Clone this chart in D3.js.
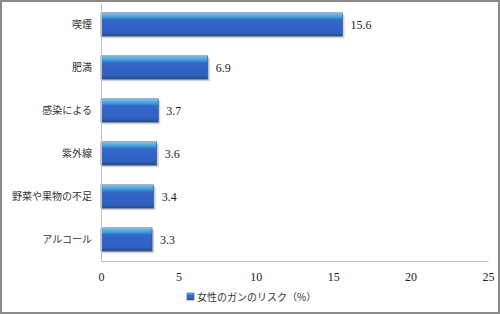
<!DOCTYPE html>
<html>
<head>
<meta charset="utf-8">
<script src="https://cdn.jsdelivr.net/npm/d3@7"></script>
<style>
  body { margin: 0; background: #fff; }
</style>
</head>
<body>
<svg id="chart" width="500" height="314"></svg>
<script>
const categories = ['喫煙', '肥満', '感染による', '紫外線', '野菜や果物の不足', 'アルコール']
const values = [15.6, 6.9, 3.7, 3.6, 3.4, 3.3]
const xTicks = [0, 5, 10, 15, 20, 25]
const seriesName = '女性のガンのリスク（%）'

const width = 500
const height = 314
const marginLeft = 101
const marginRight = 12
const marginTop = 3
const marginBottom = 53

const svg = d3.select('#chart')

svg.append('rect')
  .attr('x', 1).attr('y', 1)
  .attr('width', width - 2).attr('height', height - 2)
  .attr('fill', '#fff')
  .attr('stroke', '#8a8a8a')
  .attr('stroke-width', 2)

const defs = svg.append('defs')
const grad = defs.append('linearGradient')
  .attr('id', 'barGrad')
  .attr('x1', 0).attr('y1', 0).attr('x2', 0).attr('y2', 1)
grad.append('stop').attr('offset', '0%').attr('stop-color', '#a6d4f5')
grad.append('stop').attr('offset', '8%').attr('stop-color', '#62b2e6')
grad.append('stop').attr('offset', '20%').attr('stop-color', '#3a9ad2')
grad.append('stop').attr('offset', '30%').attr('stop-color', '#3468c8')
grad.append('stop').attr('offset', '80%').attr('stop-color', '#3060c4')
grad.append('stop').attr('offset', '90%').attr('stop-color', '#2f5aa8')
grad.append('stop').attr('offset', '100%').attr('stop-color', '#274a86')

const boundWidth = width - marginLeft - marginRight
const boundHeight = height - marginTop - marginBottom

const bounds = svg.append('g')
  .attr('transform', `translate(${marginLeft},${marginTop})`)

const xScale = d3.scaleLinear()
  .domain([0, 25])
  .range([0, boundWidth])

const yScale = d3.scaleBand()
  .domain(categories)
  .range([0, boundHeight])
  .paddingInner(0.46)
  .paddingOuter(0.23)

const data = categories.map((c, i) => ({ category: c, value: values[i] }))

// shadows
bounds.selectAll('.shadow')
  .data(data)
  .join('rect')
  .attr('class', 'shadow')
  .attr('x', 1)
  .attr('y', d => yScale(d.category) + 2)
  .attr('width', d => xScale(d.value) + 1)
  .attr('height', yScale.bandwidth())
  .attr('fill', '#9a9a9a')
  .attr('opacity', 0.45)

// bars
bounds.selectAll('.bar')
  .data(data)
  .join('rect')
  .attr('class', 'bar')
  .attr('x', 0)
  .attr('y', d => yScale(d.category))
  .attr('width', d => xScale(d.value))
  .attr('height', yScale.bandwidth())
  .attr('fill', 'url(#barGrad)')
  .attr('stroke', '#2c5290')
  .attr('stroke-width', 0.6)

// value labels
bounds.selectAll('.val')
  .data(data)
  .join('text')
  .attr('class', 'val')
  .attr('x', d => xScale(d.value) + 8)
  .attr('y', d => yScale(d.category) + yScale.bandwidth() / 2)
  .attr('dy', '0.35em')
  .attr('font-family', 'Liberation Serif, DejaVu Serif, serif')
  .attr('font-size', 12)
  .attr('fill', '#222')
  .text(d => d3.format('.1f')(d.value))

// y axis
const yAxis = bounds.append('g')
  .call(d3.axisLeft(yScale).tickSize(0).tickPadding(9))
yAxis.select('.domain').attr('stroke', '#c0c0c0')
yAxis.selectAll('text')
  .attr('font-family', 'Noto Sans CJK JP, sans-serif')
  .attr('font-size', 10)
  .attr('fill', '#333')

// x axis
const xAxis = bounds.append('g')
  .attr('transform', `translate(0,${boundHeight})`)
  .call(d3.axisBottom(xScale).tickValues(xTicks).tickSize(0).tickPadding(11))
xAxis.select('.domain').attr('stroke', '#c0c0c0')
xAxis.selectAll('text')
  .attr('font-family', 'Liberation Serif, DejaVu Serif, serif')
  .attr('font-size', 12)
  .attr('fill', '#222')

// legend
const legend = svg.append('g')
  .attr('transform', 'translate(187,297)')
legend.append('rect')
  .attr('x', 0).attr('y', -4)
  .attr('width', 7).attr('height', 7)
  .attr('fill', 'url(#barGrad)')
  .attr('stroke', '#2c5290')
  .attr('stroke-width', 0.6)
legend.append('text')
  .attr('x', 10)
  .attr('y', 0)
  .attr('dy', '0.35em')
  .attr('font-family', 'Noto Sans CJK JP, sans-serif')
  .attr('font-size', 10)
  .attr('fill', '#333')
  .text(seriesName)
</script>
</body>
</html>
